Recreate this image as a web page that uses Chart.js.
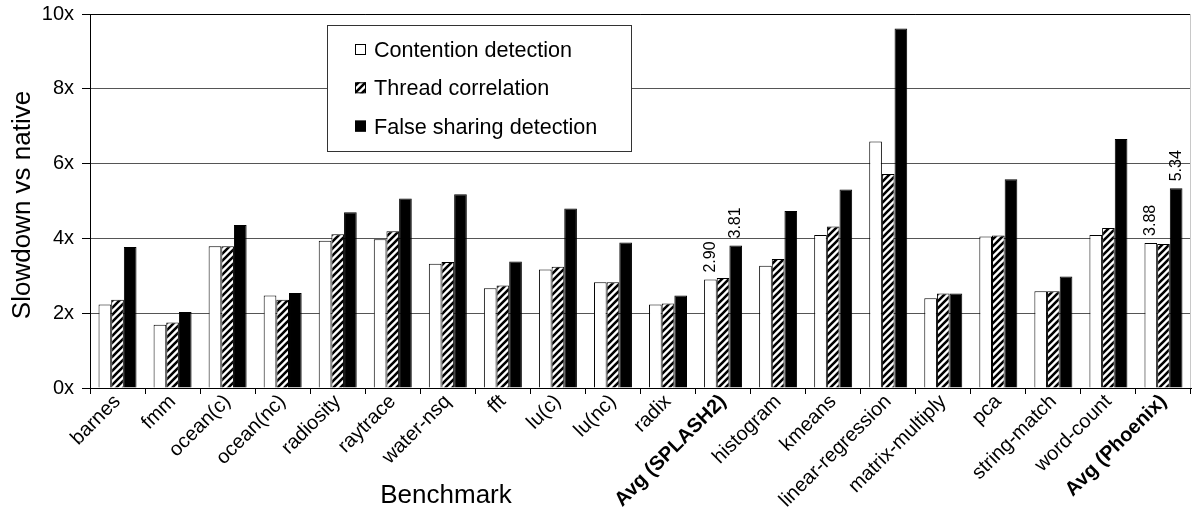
<!DOCTYPE html>
<html>
<head>
<meta charset="utf-8">
<script src="https://cdn.jsdelivr.net/npm/chart.js@4.4.1/dist/chart.umd.min.js"></script>
<style>
  html, body { margin: 0; padding: 0; background: #fff; }
  #wrap { width: 1192px; height: 509px; position: relative; }
</style>
</head>
<body>
<div id="wrap"><canvas id="chart"></canvas></div>
<script>
const benchmarks = [
  'barnes', 'fmm', 'ocean(c)', 'ocean(nc)', 'radiosity', 'raytrace', 'water-nsq',
  'fft', 'lu(c)', 'lu(nc)', 'radix', 'Avg (SPLASH2)', 'histogram', 'kmeans',
  'linear-regression', 'matrix-multiply', 'pca', 'string-match', 'word-count', 'Avg (Phoenix)'
];
const boldLabels = ['Avg (SPLASH2)', 'Avg (Phoenix)'];

const seriesNames = ['Contention detection', 'Thread correlation', 'False sharing detection'];

const contention = [2.23, 1.69, 3.79, 2.47, 3.94, 3.98, 3.32, 2.67, 3.17, 2.83, 2.23, 2.90,
  3.27, 4.09, 6.59, 2.40, 4.05, 2.59, 4.09, 3.88];
const threadCorr = [2.36, 1.75, 3.79, 2.36, 4.11, 4.19, 3.37, 2.74, 3.24, 2.83, 2.26, 2.94,
  3.45, 4.32, 5.72, 2.53, 4.08, 2.59, 4.28, 3.85];
const falseSharing = [3.77, 2.03, 4.36, 2.54, 4.70, 5.07, 5.18, 3.38, 4.80, 3.89, 2.47, 3.81,
  4.73, 5.31, 9.61, 2.53, 5.58, 2.98, 6.66, 5.34];

const yTicks = [0, 2, 4, 6, 8, 10];

// bars that carry a printed value: [series index, category index]
const valueLabels = [[0, 11], [2, 11], [0, 19], [2, 19]];

const FONT = '"Liberation Sans", Arial, sans-serif';

// diagonal hatch for the middle series
function makeHatch() {
  const c = document.createElement('canvas');
  c.width = 7; c.height = 7;
  const g = c.getContext('2d');
  g.fillStyle = '#fff';
  g.fillRect(0, 0, 7, 7);
  g.strokeStyle = '#000';
  g.lineWidth = 2.6;
  g.beginPath();
  g.moveTo(-1, 8); g.lineTo(8, -1);
  g.moveTo(-1, 1); g.lineTo(1, -1);
  g.moveTo(6, 8); g.lineTo(8, 6);
  g.stroke();
  return g.createPattern(c, 'repeat');
}
const hatch = makeHatch();

const fills = ['#ffffff', hatch, '#000000'];

const extras = {
  id: 'extras',
  afterDatasetsDraw(chart) {
    const ctx = chart.ctx;
    const area = chart.chartArea;

    // top frame line and light right border
    ctx.save();
    ctx.lineWidth = 1;
    ctx.strokeStyle = '#000';
    ctx.beginPath();
    ctx.moveTo(area.left, area.top + 0.5);
    ctx.lineTo(area.right, area.top + 0.5);
    ctx.stroke();
    ctx.strokeStyle = '#c8c8c8';
    ctx.beginPath();
    ctx.moveTo(area.right - 0.5, area.top);
    ctx.lineTo(area.right - 0.5, area.bottom);
    ctx.stroke();
    ctx.restore();

    // printed values above the average bars
    ctx.save();
    ctx.fillStyle = '#000';
    ctx.font = '16px ' + FONT;
    ctx.textAlign = 'left';
    ctx.textBaseline = 'middle';
    valueLabels.forEach(([ds, i]) => {
      const el = chart.getDatasetMeta(ds).data[i];
      const v = chart.data.datasets[ds].data[i];
      ctx.save();
      ctx.translate(el.x, el.y - 7);
      ctx.rotate(-Math.PI / 2);
      ctx.fillText(v.toFixed(2), 0, 0);
      ctx.restore();
    });
    ctx.restore();

    // legend box
    const bx = 327, by = 25, bw = 304, bh = 126;
    ctx.save();
    ctx.fillStyle = '#fff';
    ctx.fillRect(bx, by, bw, bh);
    ctx.strokeStyle = '#333';
    ctx.lineWidth = 1;
    ctx.strokeRect(bx + 0.5, by + 0.5, bw, bh);
    ctx.font = '21.6px ' + FONT;
    ctx.textBaseline = 'middle';
    ctx.textAlign = 'left';
    chart.data.datasets.forEach((d, k) => {
      const cy = 50 + k * 38.3;
      ctx.fillStyle = d.backgroundColor;
      ctx.fillRect(355, cy - 6, 11, 11);
      ctx.strokeStyle = '#000';
      ctx.strokeRect(355.5, cy - 5.5, 10, 10);
      ctx.fillStyle = '#000';
      ctx.fillText(d.label, 374, cy + 1);
    });
    ctx.restore();

    // axis titles
    ctx.save();
    ctx.fillStyle = '#000';
    ctx.font = '26px ' + FONT;
    ctx.textAlign = 'center';
    ctx.textBaseline = 'middle';
    ctx.fillText('Benchmark', 446, 496);
    ctx.translate(23, 205);
    ctx.rotate(-Math.PI / 2);
    ctx.fillText('Slowdown vs native', 0, 0);
    ctx.restore();
  }
};

new Chart(document.getElementById('chart').getContext('2d'), {
  type: 'bar',
  data: {
    labels: benchmarks,
    datasets: [contention, threadCorr, falseSharing].map((vals, k) => ({
      label: seriesNames[k],
      data: vals,
      backgroundColor: fills[k],
      borderColor: '#000',
      borderWidth: 1,
      barPercentage: 1.0,
      categoryPercentage: 0.69
    }))
  },
  options: {
    responsive: true,
    maintainAspectRatio: false,
    animation: false,
    events: [],
    layout: { padding: { left: 0, right: 1, top: 14, bottom: 0 } },
    plugins: {
      legend: { display: false },
      tooltip: { enabled: false }
    },
    scales: {
      x: {
        afterFit(scale) { scale.height = 121; },
        grid: {
          offset: true,
          drawOnChartArea: false,
          drawTicks: true,
          tickLength: 6,
          color: '#000'
        },
        border: { color: '#000', width: 1 },
        ticks: {
          color: '#000',
          autoSkip: false,
          minRotation: 45,
          maxRotation: 45,
          padding: -4,
          font: (c) => ({
            family: FONT,
            size: 20,
            weight: boldLabels.includes(benchmarks[c.index]) ? 'bold' : 'normal'
          })
        }
      },
      y: {
        min: 0,
        max: 10,
        afterFit(scale) {
          scale.width = 90;
          scale.paddingTop = 0;
          scale.paddingBottom = 0;
        },
        afterBuildTicks(scale) { scale.ticks = yTicks.map(v => ({ value: v })); },
        grid: {
          color: '#555',
          tickColor: '#000',
          tickLength: 8,
          lineWidth: 1
        },
        border: { color: '#000', width: 1 },
        ticks: {
          color: '#000',
          padding: 8,
          font: { family: FONT, size: 20 },
          callback: (v) => v + 'x'
        }
      }
    }
  },
  plugins: [extras]
});
</script>
</body>
</html>
